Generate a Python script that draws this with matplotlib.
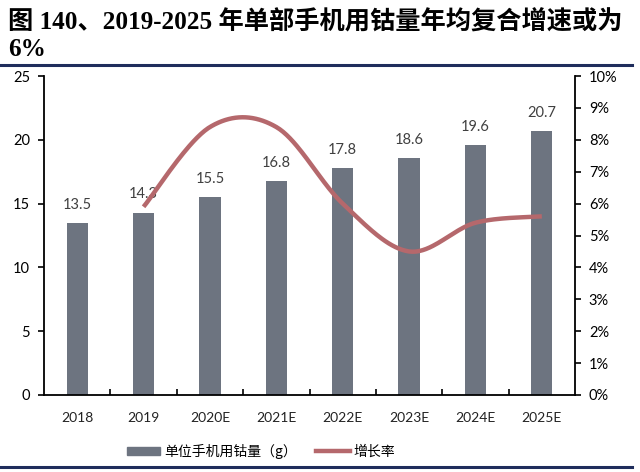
import numpy as np
import matplotlib
matplotlib.use("Agg")
import matplotlib.pyplot as plt
from matplotlib.ticker import FixedLocator
from matplotlib.patches import Patch
from matplotlib.lines import Line2D

plt.rcParams['font.family'] = ['Lato', 'Noto Sans CJK SC', 'DejaVu Sans']

categories = ['2018', '2019', '2020E', '2021E', '2022E', '2023E', '2024E', '2025E']
cobalt = [13.5, 14.3, 15.5, 16.8, 17.8, 18.6, 19.6, 20.7]
growth_cats = ['2019', '2020E', '2021E', '2022E', '2023E', '2024E', '2025E']
growth = [5.9, 8.4, 8.4, 6.0, 4.5, 5.4, 5.6]
left_ticks = [0, 5, 10, 15, 20, 25]
right_ticks = list(range(0, 11))

title_line1 = '图 140、2019-2025 年单部手机用钴量年均复合增速或为'
title_line2 = '6%'
bar_label = '单位手机用钴量（g）'
line_label = '增长率'

BAR_C = '#6d7480'
LINE_C = '#b5686c'

fig = plt.figure(figsize=(6.4, 4.72), dpi=100)
ax = fig.add_axes([44/640, 1-395/472, (575-44)/640, (395-76)/472])
ax2 = ax.twinx()

x = np.arange(len(categories))
ax.bar(x, cobalt, width=0.32, color=BAR_C, zorder=2)
for xi, v in zip(x, cobalt):
    ax.annotate(f'{v:.1f}', (xi, v), xytext=(0, 8), textcoords='offset points',
                ha='center', va='bottom', fontsize=10.5, color='#404040')

# smoothed line rendering (Excel-style Bezier smoothing through the data points)
gx = np.array([categories.index(c) for c in growth_cats], dtype=float)
gy = np.array(growth, dtype=float)
P = np.column_stack([gx, gy])
Pext = np.vstack([P[0], P, P[-1]])
pts = []
t = np.linspace(0, 1, 40)
for i in range(1, len(Pext) - 2):
    p0, p1, p2, p3 = Pext[i-1], Pext[i], Pext[i+1], Pext[i+2]
    c1 = p1 + (p2 - p0) / 6
    c2 = p2 - (p3 - p1) / 6
    seg = ((1-t)**3)[:, None]*p1 + (3*(1-t)**2*t)[:, None]*c1 + (3*(1-t)*t**2)[:, None]*c2 + (t**3)[:, None]*p2
    pts.append(seg)
pts = np.vstack(pts)
ax2.plot(pts[:, 0], pts[:, 1], color=LINE_C, lw=3.2, solid_capstyle='butt', zorder=3)

ax.set_xlim(-0.5, len(categories) - 0.5)
ax.set_ylim(0, 25)
ax2.set_ylim(0, 10)
ax.set_yticks(left_ticks)
ax.set_yticklabels([str(v) for v in left_ticks], fontsize=10.5)
ax2.set_yticks(right_ticks)
ax2.set_yticklabels([f'{v}%' for v in right_ticks], fontsize=10.5)

ax.set_xticks(x)
ax.set_xticklabels(categories, fontsize=10, color='#222222')
ax.tick_params(axis='x', which='major', length=0, pad=12)
ax.xaxis.set_minor_locator(FixedLocator(np.arange(0.5, len(categories) - 1, 1)))
ax.tick_params(axis='x', which='minor', direction='in', length=4, width=1.2)
ax.tick_params(axis='y', direction='out', length=4, width=1.2, pad=6)
ax2.tick_params(axis='y', direction='out', length=4, width=1.2, pad=6)

for a in (ax, ax2):
    a.spines['top'].set_visible(False)
    for s in ('left', 'right', 'bottom'):
        a.spines[s].set_linewidth(1.3)
        a.spines[s].set_color('black')
ax.spines['right'].set_visible(False)
ax2.spines['left'].set_visible(False)
ax2.spines['bottom'].set_visible(False)

# legend
handles = [Patch(color=BAR_C, label=bar_label), Line2D([], [], color=LINE_C, lw=3.2, label=line_label)]
fig.legend(handles=handles, loc='center', bbox_to_anchor=(261/640, 1-451/472), ncol=2,
           frameon=False, handlelength=2.4, handleheight=0.5,
           handletextpad=0.3, columnspacing=1.4,
           prop={'family': ['Noto Sans CJK SC'], 'size': 10})

# title
title_font = ['Liberation Serif', 'Noto Sans CJK SC']
fig.text(8/640, 1-22/472, title_line1, fontsize=18.2, fontweight='bold', family=title_font,
         ha='left', va='center', color='black')
fig.text(8/640, 1-50/472, title_line2, fontsize=18.2, fontweight='bold', family=title_font,
         ha='left', va='center', color='black')
fig.add_artist(Line2D([0, 632/640], [1-65/472, 1-65/472], color='#1f2d5c', lw=2.2))
fig.add_artist(Line2D([0, 632/640], [1-467/472, 1-467/472], color='#1f2d5c', lw=2.2))

fig.savefig('out.png', dpi=100)
